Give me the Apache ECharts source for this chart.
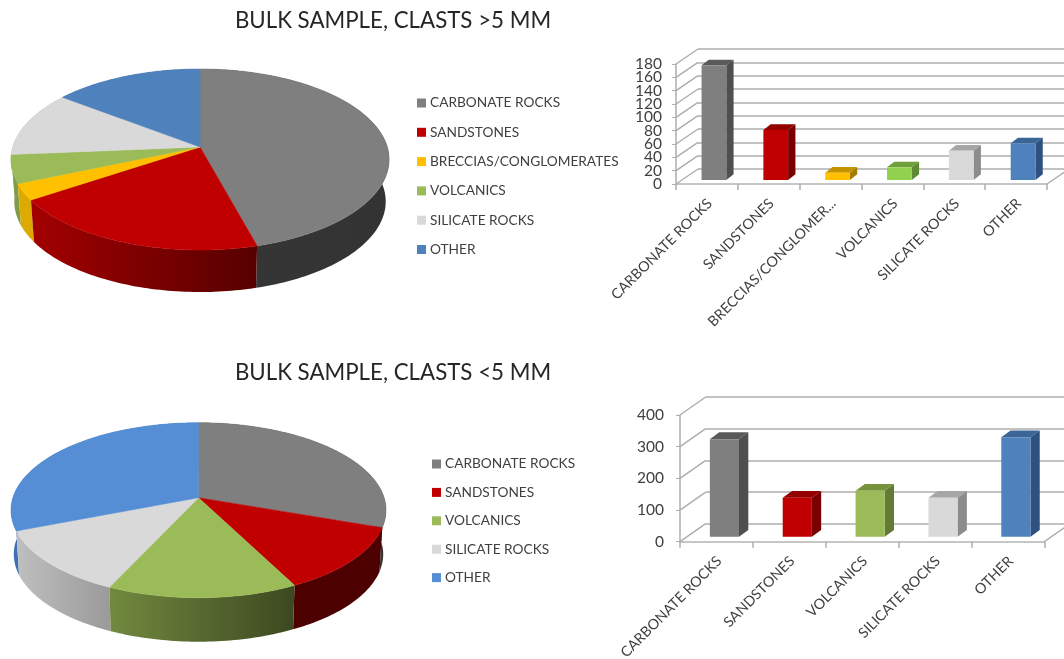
<!DOCTYPE html>
<html><head><meta charset="utf-8">
<style>html,body{margin:0;padding:0;background:#fff}#c{width:1064px;height:659px}</style>
<script src="https://cdn.jsdelivr.net/npm/echarts@6/dist/echarts.min.js"></script>
</head><body><div id="c"></div>
<script>
const coarseCategories = ['CARBONATE ROCKS','SANDSTONES','BRECCIAS/CONGLOMERATES','VOLCANICS','SILICATE ROCKS','OTHER'];
const coarseValues = [172, 75, 11, 19, 44, 55];
const fineCategories = ['CARBONATE ROCKS','SANDSTONES','VOLCANICS','SILICATE ROCKS','OTHER'];
const fineValues = [308, 123, 145, 123, 314];
const coarseTicks = [0,20,40,60,80,100,120,140,160,180];
const coarseTicksEven = [0,40,80,120,160];
const coarseTicksOdd = [20,60,100,140,180];
const fineTicks = [0,100,200,300,400];

const FONT = 'Lato';
const TXT = '#404040';
const LINE = '#aeaeae';

const coarsePieStyle = [
  {top:'#7f7f7f', side:['#363636','#333333']},
  {top:'#c00000', side:['#a30000','#560000']},
  {top:'#ffc000', side:['#dcaa00','#dcaa00']},
  {top:'#9bbb59', side:['#7f9c4a','#7f9c4a']},
  {top:'#d9d9d9', side:['#aaaaaa','#aaaaaa']},
  {top:'#4f81bd', side:['#3a6595','#3a6595']}
];
const finePieStyle = [
  {top:'#7f7f7f', side:['#333333','#333333']},
  {top:'#c00000', side:['#4d0000','#4d0000']},
  {top:'#9bbb59', side:['#72893f','#3d4820']},
  {top:'#d9d9d9', side:['#bfbfbf','#9a9a9a']},
  {top:'#558ed5', side:['#3f6fb5','#3f6fb5']}
];
const coarseBarStyle = [
  ['#7f7f7f','#5a5a5a','#4f4f4f'],['#c00000','#940000','#7a0000'],['#ffc000','#c49400','#a67d00'],
  ['#92d050','#6f9e3a','#5f8a35'],['#d9d9d9','#a6a6a6','#8c8c8c'],['#4f81bd','#3a6595','#2e5180']
];
const fineBarStyle = [
  ['#7f7f7f','#5a5a5a','#4f4f4f'],['#c00000','#940000','#7a0000'],['#9bbb59','#76923c','#647b35'],
  ['#d9d9d9','#a6a6a6','#8c8c8c'],['#4f81bd','#3a6595','#2e5180']
];

function pieSeries(cats, vals, styles, g){
  const total = vals.reduce((a,b)=>a+b,0);
  let cum = 0;
  return cats.map((name,i)=>{
    const a0 = cum/total*Math.PI*2; cum += vals[i]; const a1 = cum/total*Math.PI*2;
    const st = styles[i];
    const rim = t=>{
      const u=Math.sin(t), v=-Math.cos(t), w=1-g.k*v;
      return [g.cx+g.a*u/w, g.cy+g.b*v/w];
    };
    return {
      type:'custom', name, coordinateSystem:'none', silent:true, clip:false,
      itemStyle:{color:st.top}, data:[[vals[i]]],
      renderItem(){
        const n=Math.max(4,Math.ceil((a1-a0)/0.02));
        const top=[], low=[];
        for(let j=0;j<=n;j++){
          const p=rim(a0+(a1-a0)*j/n);
          top.push(p);
          low.push([g.cx+(p[0]-g.cx)*g.s, p[1]+g.d]);
        }
        const side=top.concat(low.slice().reverse());
        const fill=new echarts.graphic.LinearGradient(0,0,1,0,[{offset:0,color:st.side[0]},{offset:1,color:st.side[1]}]);
        return {type:'group',children:[
          {type:'polygon',z2:2-Math.cos((a0+a1)/2),shape:{points:side},style:{fill,stroke:null}},
          {type:'polygon',z2:5,shape:{points:[[g.cx,g.cy]].concat(top)},style:{fill:st.top,stroke:st.top,lineWidth:0.5}}
        ]};
      }
    };
  });
}

function barSeries(cats, vals, styles, g, xi, yi){
  return {
    type:'custom', name:'bars'+xi, coordinateSystem:'cartesian2d', xAxisIndex:xi, yAxisIndex:yi, silent:true, clip:false,
    data:cats.map((c,i)=>[i,vals[i]]),
    renderItem(p,api){
      const i=api.value(0), v=api.value(1);
      const b=api.coord([i,0]), t=api.coord([i,v]);
      const bw=api.size([1,0])[0]*0.4;
      const L=b[0]-bw/2+g.ox, R=L+bw, Y0=b[1]+g.oy, Y1=t[1]+g.oy;
      const c=styles[i];
      return {type:'group',children:[
        {type:'polygon',shape:{points:[[L,Y1],[R,Y1],[R+g.tx,Y1-g.ty],[L+g.tx,Y1-g.ty]]},style:{fill:c[1]}},
        {type:'polygon',shape:{points:[[R,Y1],[R+g.tx,Y1-g.ty],[R+g.tx,Y0-g.ty],[R,Y0]]},style:{fill:c[2]}},
        {type:'rect',shape:{x:L,y:Y1,width:bw,height:Y0-Y1},style:{fill:c[0]}}
      ]};
    }
  };
}

function frameSeries(cats, ticks, g, xi, yi){
  return {
    type:'custom', name:'frame'+xi, coordinateSystem:'cartesian2d', xAxisIndex:xi, yAxisIndex:yi, silent:true, clip:false, z:1,
    data:ticks.map(t=>[0,t]),
    renderItem(p,api){
      const band=api.size([1,0])[0];
      const q=api.coord([0,api.value(1)]);
      const x0=q[0]-band/2;
      const kids=[{type:'line',shape:{x1:x0,y1:q[1],x2:x0+g.wx,y2:q[1]-g.wy},style:{stroke:LINE,lineWidth:1.5}}];
      if(api.value(1)===0){
        const xr=x0+band*cats.length;
        kids.push({type:'line',shape:{x1:xr,y1:q[1],x2:xr+g.wx,y2:q[1]-g.wy},style:{stroke:LINE,lineWidth:1.5}});
      }
      return {type:'group',children:kids};
    }
  };
}

const pieA={cx:200,cy:147,a:187.3,b:88.8,k:0.138,s:0.982,d:42};
const pieB={cx:198.5,cy:497.7,a:185.6,b:85.7,k:0.143,s:0.985,d:44};
const barA={ox:7,oy:-4,tx:7.3,ty:5.7,wx:22,wy:15};
const barB={ox:8,oy:-5,tx:9.3,ty:6.8,wx:25.7,wy:18};

function legendData(cats,styles){return cats.map((n,i)=>({name:n,itemStyle:{color:styles[i].top}}));}
const legendCommon={orient:'vertical',icon:'rect',itemWidth:9,itemHeight:9,selectedMode:false,padding:0,
  textStyle:{fontFamily:FONT,fontSize:13.7,color:TXT,padding:[0,0,0,-1]}};
const yLab=(m,s,extra)=>Object.assign({fontFamily:FONT,fontSize:s,color:TXT,margin:m,hideOverlap:false,padding:[2,0,0,0]},extra||{});
const xLab=(m)=>({fontFamily:FONT,fontSize:14.3,color:TXT,rotate:45,margin:m,interval:0,padding:[0,-4,0,0],
  overflow:'truncate',width:176,ellipsis:'...'});
const floorLine={lineStyle:{color:'#c6c6c6',width:2}};
const tick={show:true,length:6,lineStyle:{color:LINE,width:1.5},alignWithLabel:false};
const G={outerBoundsMode:'none'};

const option={
  animation:false,
  backgroundColor:'#fff',
  title:[
    {text:'BULK SAMPLE, CLASTS >5 MM',left:388,top:5,textAlign:'center',textStyle:{fontFamily:FONT,fontSize:22.3,fontWeight:'normal',color:'#262626'}},
    {text:'BULK SAMPLE, CLASTS <5 MM',left:388,top:357,textAlign:'center',textStyle:{fontFamily:FONT,fontSize:22.3,fontWeight:'normal',color:'#262626'}}
  ],
  legend:[
    Object.assign({},legendCommon,{left:417,top:96,itemGap:15.3,data:legendData(coarseCategories,coarsePieStyle)}),
    Object.assign({},legendCommon,{left:432,top:457,itemGap:14.4,data:legendData(fineCategories,finePieStyle)})
  ],
  grid:[
    Object.assign({left:676,top:64,width:371,height:120},G),
    Object.assign({left:698,top:49,width:400,height:120},G),
    Object.assign({left:680,top:415,width:364.3,height:126.7},G),
    Object.assign({left:705.7,top:397,width:400,height:126.7},G)
  ],
  xAxis:[
    {gridIndex:0,type:'category',data:coarseCategories,boundaryGap:true,axisLine:floorLine,axisTick:tick,axisLabel:xLab(20)},
    {gridIndex:1,type:'value',show:false,min:0,max:1},
    {gridIndex:2,type:'category',data:fineCategories,boundaryGap:true,axisLine:floorLine,axisTick:tick,axisLabel:xLab(20)},
    {gridIndex:3,type:'value',show:false,min:0,max:1}
  ],
  yAxis:[
    {gridIndex:0,type:'value',min:0,max:180,axisLine:{show:true,lineStyle:{color:LINE,width:1.5}},axisTick:{show:true,length:4,lineStyle:{color:LINE},customValues:coarseTicks},splitLine:{show:false},axisLabel:yLab(14,15.5,{customValues:coarseTicksEven})},
    {gridIndex:1,type:'value',min:0,max:180,interval:20,axisLine:{show:false},axisTick:{show:false},axisLabel:{show:false},splitLine:{show:true,lineStyle:{color:LINE,width:1.5}}},
    {gridIndex:2,type:'value',min:0,max:400,interval:100,axisLine:{show:true,lineStyle:{color:LINE,width:1.5}},axisTick:{show:true,length:4,lineStyle:{color:LINE}},splitLine:{show:false},axisLabel:yLab(16,15.5,{showMinLabel:true,showMaxLabel:true})},
    {gridIndex:3,type:'value',min:0,max:400,interval:100,axisLine:{show:false},axisTick:{show:false},axisLabel:{show:false},splitLine:{show:true,lineStyle:{color:LINE,width:1.5}}},
    {gridIndex:0,type:'value',min:0,max:180,position:'left',offset:0,axisLine:{show:false},axisTick:{show:false},splitLine:{show:false},axisLabel:yLab(14,15.5,{customValues:coarseTicksOdd})}
  ],
  series:[
    ...pieSeries(coarseCategories,coarseValues,coarsePieStyle,pieA),
    ...pieSeries(fineCategories,fineValues,finePieStyle,pieB),
    frameSeries(coarseCategories,coarseTicks,barA,0,0),
    frameSeries(fineCategories,fineTicks,barB,2,2),
    barSeries(coarseCategories,coarseValues,coarseBarStyle,barA,0,0),
    barSeries(fineCategories,fineValues,fineBarStyle,barB,2,2)
  ]
};
const chart=echarts.init(document.getElementById('c'),null,{renderer:'canvas'});
chart.setOption(option);
</script></body></html>
